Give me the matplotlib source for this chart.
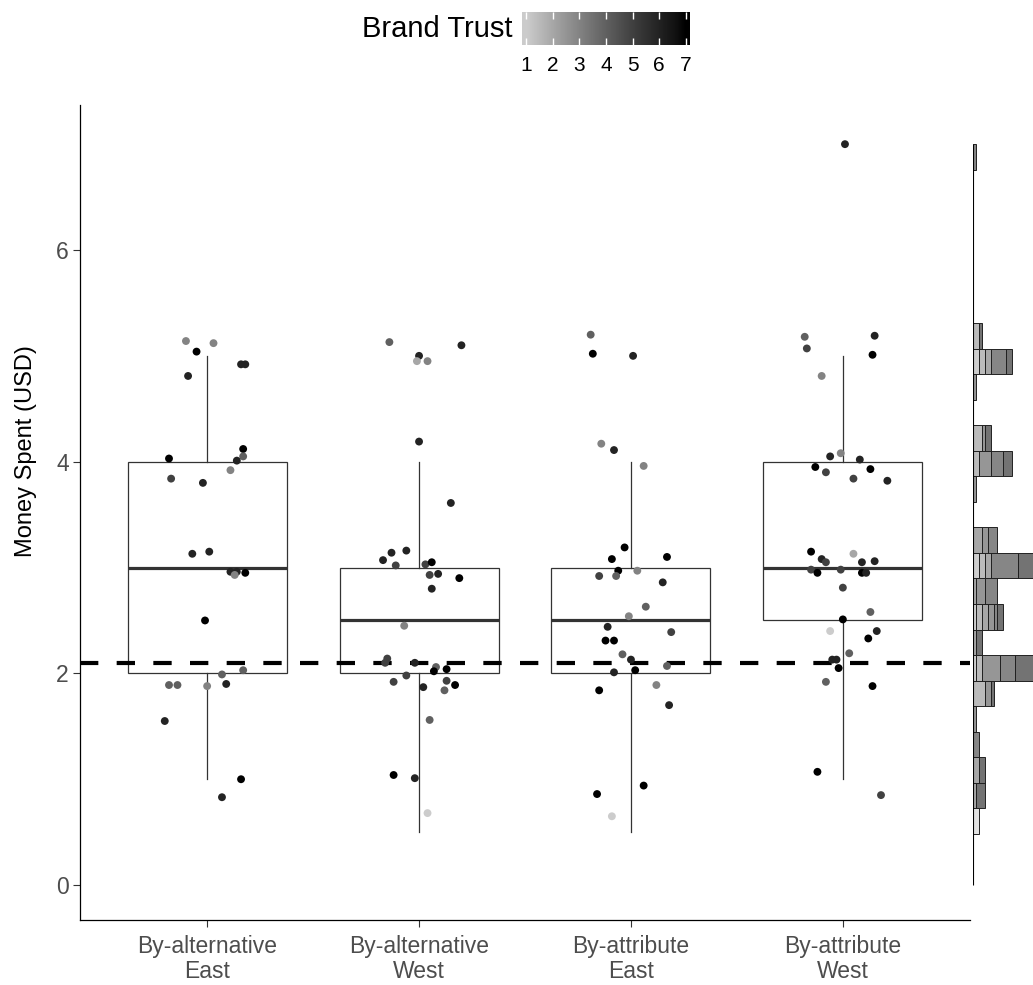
import numpy as np
import matplotlib
matplotlib.use('Agg')
import matplotlib.pyplot as plt
from matplotlib.colors import ListedColormap, Normalize, to_rgba

plt.rcParams['font.family'] = ['Liberation Sans', 'DejaVu Sans']

groups = ['By-alternative\nEast', 'By-alternative\nWest',
          'By-attribute\nEast', 'By-attribute\nWest']

# boxplot stats
box_q1 = [2, 2, 2, 2.5]
box_med = [3, 2.5, 2.5, 3]
box_q3 = [4, 3, 3, 4]
box_lo = [1, 0.5, 0.5, 1]
box_hi = [5, 4, 4, 5]

ref_line = 2.1

# jittered points (horizontal jitter, money spent, brand trust)
g1_jit = [-0.10, 0.03, -0.05, -0.09, 0.16, 0.18, 0.17, 0.17, -0.18, 0.14, 0.11, -0.17, -0.02, -0.07, 0.01,
          0.11, 0.14, 0.13, 0.18, -0.01, 0.07, 0.17, -0.18, -0.14, 0.00, 0.09, -0.20, 0.16, 0.07]
g1_val = [5.14, 5.12, 5.04, 4.81, 4.92, 4.92, 4.12, 4.05, 4.03, 4.01, 3.92, 3.84, 3.80, 3.13, 3.15,
          2.96, 2.96, 2.93, 2.95, 2.50, 1.99, 2.03, 1.89, 1.89, 1.88, 1.90, 1.55, 1.00, 0.83]
g1_trust = [3, 3, 7, 6, 6, 6, 7, 4, 7, 6, 3, 5, 6, 6, 6,
            6, 6, 3, 7, 7, 4, 4, 4, 4, 3, 6, 6, 7, 6]

g2_jit = [-0.14, 0.20, 0.00, -0.01, 0.04, 0.00, 0.15, -0.06, -0.13, -0.17, -0.11, 0.03, 0.06, 0.05, 0.09,
          0.19, 0.06, -0.07, -0.15, -0.16, -0.02, 0.08, 0.07, 0.13, -0.06, -0.12, 0.02, 0.13, 0.17, 0.12,
          0.05, -0.12, -0.02, 0.04]
g2_val = [5.13, 5.10, 5.00, 4.95, 4.95, 4.19, 3.61, 3.16, 3.14, 3.07, 3.02, 3.03, 3.05, 2.93, 2.94,
          2.90, 2.80, 2.45, 2.14, 2.10, 2.10, 2.06, 2.02, 2.04, 1.98, 1.92, 1.87, 1.93, 1.89, 1.84,
          1.56, 1.04, 1.01, 0.68]
g2_trust = [4, 6, 6, 2, 3, 6, 6, 6, 6, 6, 5, 5, 7, 5, 6,
            7, 6, 3, 5, 5, 6, 4, 7, 7, 5, 5, 6, 5, 7, 4,
            4, 7, 6, 1]

g3_jit = [-0.19, -0.18, 0.01, -0.14, -0.08, 0.06, -0.03, -0.09, 0.17, -0.06, 0.03, -0.15, -0.07, 0.15, 0.07,
          -0.01, -0.11, 0.19, -0.12, -0.08, -0.04, 0.00, 0.17, -0.08, 0.02, 0.12, -0.15, 0.18, 0.06, -0.16,
          -0.09]
g3_val = [5.20, 5.02, 5.00, 4.17, 4.11, 3.96, 3.19, 3.08, 3.10, 2.97, 2.97, 2.92, 2.92, 2.86, 2.63,
          2.54, 2.44, 2.39, 2.31, 2.31, 2.18, 2.13, 2.07, 2.01, 2.03, 1.89, 1.84, 1.70, 0.94, 0.86,
          0.65]
g3_trust = [4, 7, 6, 3, 6, 3, 7, 7, 7, 7, 3, 5, 4, 6, 4,
            3, 6, 5, 7, 7, 4, 6, 4, 6, 7, 3, 7, 6, 7, 7,
            1]

g4_jit = [0.01, -0.18, 0.15, -0.17, 0.14, -0.10, -0.06, -0.01, 0.08, -0.13, -0.08, 0.13, 0.05, 0.21, -0.15,
          -0.10, -0.08, 0.05, 0.09, 0.15, -0.15, -0.12, -0.01, 0.09, 0.11, 0.00, 0.13, 0.00, -0.06, 0.16,
          0.12, 0.03, -0.05, -0.03, -0.02, -0.08, 0.14, -0.12, 0.18]
g4_val = [7.00, 5.18, 5.19, 5.07, 5.01, 4.81, 4.05, 4.08, 4.02, 3.95, 3.90, 3.93, 3.84, 3.82, 3.15,
          3.08, 3.05, 3.13, 3.05, 3.06, 2.98, 2.95, 2.98, 2.95, 2.95, 2.81, 2.58, 2.51, 2.40, 2.40,
          2.33, 2.19, 2.13, 2.13, 2.05, 1.92, 1.88, 1.07, 0.85]
g4_trust = [6, 4, 6, 5, 7, 3, 6, 3, 6, 7, 5, 7, 5, 6, 7,
            6, 5, 2, 6, 6, 5, 7, 5, 7, 6, 5, 4, 7, 1, 6,
            7, 4, 6, 6, 7, 4, 7, 7, 5]

# marginal histogram on the right: bin index, trust level, count
hist_bin = [2, 3, 3, 4, 4, 5, 6, 7, 7, 7, 8, 8, 8, 8, 8, 9, 9, 10, 10, 10, 10, 10, 10,
            11, 11, 11, 12, 12, 12, 12, 12, 13, 13, 13, 15, 16, 16, 16, 16, 17, 17, 17, 19,
            20, 20, 20, 20, 20, 21, 21, 28]
hist_trust = [1, 4, 7, 4, 7, 6, 5, 3, 5, 7, 2, 3, 5, 6, 7, 4, 7, 2, 3, 4, 5, 6, 7,
              4, 5, 6, 2, 3, 4, 6, 7, 4, 5, 6, 5, 3, 5, 6, 7, 3, 5, 7, 5,
              2, 3, 4, 6, 7, 3, 7, 6]
hist_count = [2, 1, 3, 2, 2, 2, 1, 4, 2, 1, 1, 2, 6, 5, 6, 1, 2, 1, 2, 2, 2, 1, 2,
              1, 3, 4, 2, 2, 2, 9, 6, 3, 2, 3, 1, 2, 4, 4, 3, 3, 1, 2, 1,
              2, 2, 2, 5, 2, 2, 1, 1]
bin_w = 7 / 29


def grey_ramp(n=256):
    # grey80 -> black, linear in Lab lightness like ggplot's gradient
    L = np.linspace(82.0, 0, n)
    Y = np.where(L > 8, ((L + 16) / 116) ** 3, L / 903.3)
    c = np.where(Y > 0.0031308, 1.055 * Y ** (1 / 2.4) - 0.055, 12.92 * Y)
    return ListedColormap(np.column_stack([c, c, c]))


cmap = grey_ramp()
norm = Normalize(vmin=1, vmax=7)
W, H = 1033, 985
tick_grey = '#4d4d4d'

fig = plt.figure(figsize=(W / 100, H / 100), dpi=100)
ax = fig.add_axes([80 / W, 65 / H, 890 / W, 815 / H])

stats = []
for i in range(4):
    stats.append(dict(q1=box_q1[i], med=box_med[i], q3=box_q3[i],
                      whislo=box_lo[i], whishi=box_hi[i], fliers=[]))
ax.bxp(stats, positions=[1, 2, 3, 4], widths=0.75, showcaps=False, showfliers=False,
       patch_artist=True,
       boxprops=dict(facecolor='white', edgecolor='#333333', linewidth=0.9),
       whiskerprops=dict(color='#333333', linewidth=0.9),
       medianprops=dict(color='#333333', linewidth=2.3))

ax.axhline(ref_line, color='black', lw=3, dashes=(4.4, 4.4), zorder=3)

point_sets = [(g1_jit, g1_val, g1_trust), (g2_jit, g2_val, g2_trust),
              (g3_jit, g3_val, g3_trust), (g4_jit, g4_val, g4_trust)]
for i, (jit, val, tr) in enumerate(point_sets):
    ax.scatter(i + 1 + np.array(jit), val, c=tr, cmap=cmap, norm=norm,
               s=32, linewidths=0, zorder=4)

ax.set_xlim(0.4, 4.6)
ax.set_ylim(-0.33, 7.37)
ax.set_xticks([1, 2, 3, 4])
ax.set_xticklabels(groups, linespacing=1.12)
ax.set_yticks([0, 2, 4, 6])
ax.tick_params(labelsize=16.5, labelcolor=tick_grey, color='#333333', length=5, width=0.8, pad=3)
ax.tick_params(axis='x', pad=6)
ax.set_ylabel('Money Spent (USD)', fontsize=17)
ax.yaxis.set_label_coords(-0.048, 0.575)
for s in ['top', 'right']:
    ax.spines[s].set_visible(False)
for s in ['left', 'bottom']:
    ax.spines[s].set_linewidth(0.9)

# marginal histogram
axh = fig.add_axes([973 / W, 65 / H, 60 / W, 815 / H])
axh.set_ylim(ax.get_ylim())
axh.set_xlim(0, 20)
axh.axis('off')
axh.vlines(0, 0, 29 * bin_w, color='black', lw=0.8)
left = {}
for k, t, n in zip(hist_bin, hist_trust, hist_count):
    x0 = left.get(k, 0)
    axh.barh(k * bin_w, n, left=x0, height=bin_w, align='edge',
             color=to_rgba(cmap(norm(t)), 0.55), edgecolor='#222222', linewidth=0.7)
    left[k] = x0 + n

# colour bar legend on top
cax = fig.add_axes([522 / W, (H - 45) / H, 168 / W, 33 / H])
grad = np.linspace(0.84, 7.16, 300)[None, :]
cax.imshow(grad, extent=[0.84, 7.16, 0, 1], aspect='auto', cmap=cmap, norm=norm)
cax.set_xlim(0.84, 7.16)
cax.set_ylim(0, 1)
cax.set_yticks([])
cax.set_xticks([1, 2, 3, 4, 5, 6, 7])
cax.tick_params(axis='x', direction='in', color='white', labelcolor='black',
                length=5, width=1, top=True, bottom=True, labelsize=15, pad=8)
for s in cax.spines.values():
    s.set_visible(False)
fig.text(512 / W, 1 - 29 / H, 'Brand Trust', ha='right', va='center', fontsize=21)

plt.savefig('out.png', dpi=100)
